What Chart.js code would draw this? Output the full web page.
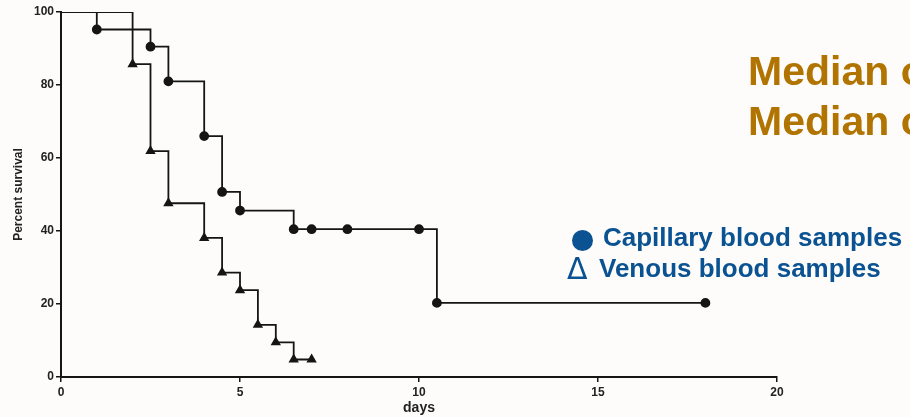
<!DOCTYPE html>
<html>
<head>
<meta charset="utf-8">
<script src="https://cdn.jsdelivr.net/npm/chart.js@4/dist/chart.umd.min.js"></script>
<style>
  body { margin: 0; background: #fdfcfa; }
  #wrap { position: relative; width: 910px; height: 417px; overflow: hidden; }
  #chart { position: absolute; left: 0; top: 0; }
  .median { position: absolute; left: 748px; font: bold 41px "Liberation Sans", Arial, sans-serif; color: #b27400; white-space: nowrap; }
  .leg { position: absolute; font: bold 26px "Liberation Sans", Arial, sans-serif; color: #0a5291; white-space: nowrap; }
  .dot { position: absolute; left: 572px; top: 230px; width: 21px; height: 21px; border-radius: 50%; background: #0a5291; }
  .delta { position: absolute; left: 567px; top: 251px; font: 30px "DejaVu Sans", sans-serif; color: #0a5291; }
</style>
</head>
<body>
<div id="wrap">
  <canvas id="chart" width="910" height="417"></canvas>
  <div class="median" style="top:48px">Median o</div>
  <div class="median" style="top:98px">Median o</div>
  <div class="dot"></div>
  <div class="leg" style="left:603px; top:222px">Capillary blood samples</div>
  <div class="delta">Δ</div>
  <div class="leg" style="left:599px; top:253px">Venous blood samples</div>
</div>
<script>
    // Kaplan-Meier steps
    const capillaryDays = [0, 1, 2.5, 3, 4, 4.5, 5, 6.5, 7, 8, 10, 10.5, 18];
    const capillarySurvival = [100, 95.2, 90.5, 81.0, 66.0, 50.7, 45.6, 40.5, 40.5, 40.5, 40.5, 20.3, 20.3];

    const venousDays = [0, 2, 2.5, 3, 4, 4.5, 5, 5.5, 6, 6.5, 7];
    const venousSurvival = [100, 85.7, 61.9, 47.6, 38.1, 28.6, 23.8, 14.3, 9.5, 4.8, 4.8];

    const xTicks = [0, 5, 10, 15, 20];
    const yTicks = [0, 20, 40, 60, 80, 100];

    function toPoints(xs, ys) {
        return xs.map((x, i) => ({ x: x, y: ys[i] }));
    }

    // no marker on the starting point at day 0
    function markerSizes(xs, r) {
        return xs.map((x, i) => (i === 0 ? 0 : r));
    }

    const ink = '#151515';
    const tickFont = { family: 'Liberation Sans, Arial, sans-serif', size: 12, weight: 'bold' };

    const ctx = document.getElementById('chart').getContext('2d');
    new Chart(ctx, {
        type: 'line',
        data: {
            datasets: [{
                label: 'Capillary blood samples',
                data: toPoints(capillaryDays, capillarySurvival),
                stepped: 'before',
                borderColor: ink,
                backgroundColor: ink,
                borderWidth: 1.8,
                pointStyle: 'circle',
                pointRadius: markerSizes(capillaryDays, 4),
                fill: false
            }, {
                label: 'Venous blood samples',
                data: toPoints(venousDays, venousSurvival),
                stepped: 'before',
                borderColor: ink,
                backgroundColor: ink,
                borderWidth: 1.8,
                pointStyle: 'triangle',
                pointRadius: markerSizes(venousDays, 4.2),
                fill: false
            }]
        },
        options: {
            responsive: false,
            animation: false,
            layout: { padding: { left: 0, right: 133, top: 12, bottom: 0 } },
            plugins: { legend: { display: false }, tooltip: { enabled: false } },
            scales: {
                x: {
                    type: 'linear',
                    min: 0,
                    max: 20,
                    afterFit: function(scale) { scale.height = 40; },
                    afterBuildTicks: function(scale) { scale.ticks = xTicks.map(v => ({ value: v })); },
                    border: { display: true, color: ink, width: 2 },
                    grid: { drawOnChartArea: false, drawTicks: true, tickLength: 5, color: ink, lineWidth: 1.5 },
                    ticks: { color: '#222', font: tickFont, padding: 3, maxRotation: 0 },
                    title: {
                        display: true,
                        text: 'days',
                        color: '#222',
                        font: { family: 'Liberation Sans, Arial, sans-serif', size: 14, weight: 'bold' },
                        padding: { top: 0, bottom: 0 }
                    }
                },
                y: {
                    min: 0,
                    max: 100,
                    afterFit: function(scale) { scale.width = 61; },
                    afterBuildTicks: function(scale) { scale.ticks = yTicks.map(v => ({ value: v })); },
                    border: { display: true, color: ink, width: 2 },
                    grid: { drawOnChartArea: false, drawTicks: true, tickLength: 5, color: ink, lineWidth: 1.5 },
                    ticks: { color: '#222', font: tickFont, padding: 2 },
                    title: {
                        display: true,
                        text: 'Percent survival',
                        color: '#222',
                        font: { family: 'Liberation Sans, Arial, sans-serif', size: 12, weight: 'bold' },
                        padding: { top: 11, bottom: 0 }
                    }
                }
            }
        }
    });
</script>
</body>
</html>
